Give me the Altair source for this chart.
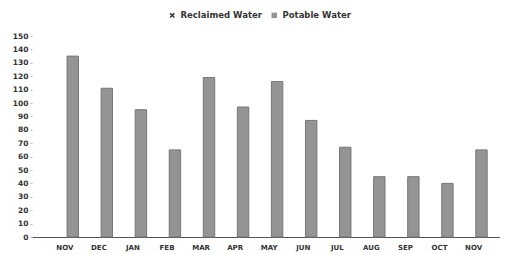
import altair as alt
import pandas as pd

months = ["NOV", "DEC", "JAN", "FEB", "MAR", "APR", "MAY", "JUN", "JUL", "AUG", "SEP", "OCT", "NOV"]
potable = [135, 111, 95, 65, 119, 97, 116, 87, 67, 45, 45, 40, 65]
reclaimed = [0, 0, 0, 0, 0, 0, 0, 0, 0, 0, 0, 0, 0]
series = ["Reclaimed Water", "Potable Water"]
y_ticks = list(range(0, 151, 10))

keys = [f"{m}_{i}" for i, m in enumerate(months)]
rows = []
for k, r, p in zip(keys, reclaimed, potable):
    rows.append({"key": k, "series": series[0], "value": r})
    rows.append({"key": k, "series": series[1], "value": p})
df = pd.DataFrame(rows)

FONT = "DejaVu Sans"
x_path = "M-1,-0.6L-0.6,-1L0,-0.4L0.6,-1L1,-0.6L0.4,0L1,0.6L0.6,1L0,0.4L-0.6,1L-1,0.6L-0.4,0Z"

legend = alt.Legend(
    title=None, orient="none", direction="horizontal", legendX=136, legendY=-25,
    labelFont=FONT, labelFontWeight="bold", labelFontSize=8.5, labelColor="#333333",
    symbolSize=30, symbolOpacity=1, columnPadding=8, symbolStrokeWidth=0,
)

color_enc = alt.Color("series:N", scale=alt.Scale(domain=series, range=["#3a3a3a", "#949494"]),
                      sort=series, legend=legend)

x = alt.X("key:N", sort=keys, title=None,
          scale=alt.Scale(paddingInner=0.2, paddingOuter=0.47, align=0.6),
          axis=alt.Axis(labelExpr="split(datum.value, '_')[0]", labelAngle=0,
                        labelFont=FONT, labelFontWeight="bold", labelFontSize=7,
                        labelColor="#333333", tickSize=0, labelPadding=6,
                        domainColor="#555555", domainWidth=1.2))
y = alt.Y("value:Q", title=None,
          scale=alt.Scale(domain=[0, 150], nice=False),
          axis=alt.Axis(values=y_ticks, grid=False, domain=False,
                        labelFont=FONT, labelFontWeight="bold", labelFontSize=7.5,
                        labelColor="#333333", tickSize=2, tickColor="#bbbbbb",
                        labelPadding=2))
xo = alt.XOffset("series:N", sort=series, scale=alt.Scale(paddingInner=0.28))

bars = alt.Chart(df).mark_bar(stroke="#777777", strokeWidth=1).encode(
    x=x, y=y, xOffset=xo,
    color=color_enc,
    strokeOpacity=alt.condition("datum.value > 0", alt.value(1), alt.value(0)),
)
pts = alt.Chart(df).mark_point(filled=True, opacity=0).encode(
    x=x, y=y, xOffset=xo,
    color=color_enc,
    shape=alt.Shape("series:N", scale=alt.Scale(domain=series, range=[x_path, "square"]),
                    sort=series, legend=legend),
)

chart = alt.layer(bars, pts).properties(
    width=468, height=201,
    autosize=alt.AutoSizeParams(type="none"),
    padding={"left": 24, "top": 28, "right": 0, "bottom": 17},
    background="white",
).configure_view(stroke=None)

chart.save("out.html", embed_options={"renderer": "svg", "actions": False})
